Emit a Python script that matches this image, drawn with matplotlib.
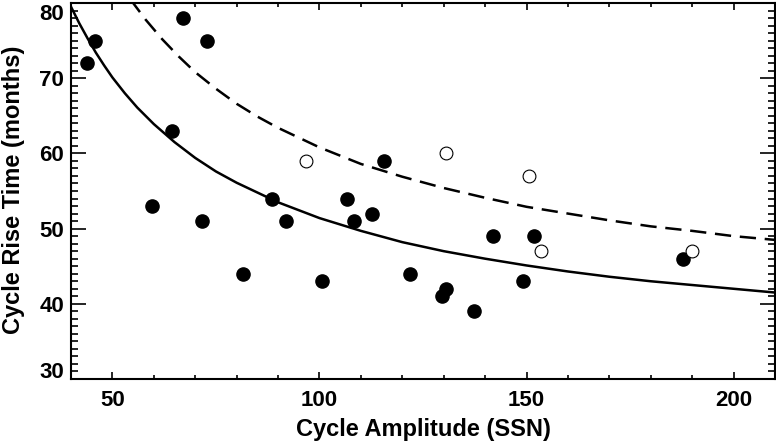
import matplotlib
matplotlib.use("Agg")
import matplotlib.pyplot as plt
from matplotlib.ticker import MultipleLocator
from matplotlib.transforms import ScaledTranslation

plt.rcParams['font.family'] = ['Liberation Sans', 'DejaVu Sans']
plt.rcParams['font.weight'] = 'bold'

# filled points: cycle amplitude (SSN) and rise time (months)
amp_filled = [43.8, 45.8, 67.1, 72.9, 64.5, 59.5, 71.6, 81.6, 88.6, 92.0, 100.5,
              106.6, 108.3, 112.8, 115.7, 121.8, 129.6, 130.6, 137.4, 141.9,
              149.1, 151.7, 187.9]
rise_filled = [72, 75, 78, 75, 63, 53, 51, 44, 54, 51, 43,
               54, 51, 52, 59, 44, 41, 42, 39, 49,
               43, 49, 46]

# open points
amp_open = [96.7, 130.6, 150.5, 153.4, 189.9]
rise_open = [59, 60, 57, 47, 47]

# solid curve
solid_x = [40, 42, 44, 46, 48, 50, 53, 56, 60, 65, 70, 75, 80, 90, 100, 110,
           120, 130, 140, 150, 160, 170, 180, 190, 200, 210]
solid_y = [79.5, 77.3, 75.3, 73.4, 71.7, 70.1, 68.0, 66.1, 63.9, 61.5, 59.4,
           57.6, 56.1, 53.5, 51.4, 49.7, 48.2, 47.0, 46.0, 45.1, 44.3, 43.6,
           43.0, 42.5, 42.0, 41.5]

# dashed curve
dash_x = [53, 55, 58, 62, 66, 70, 75, 80, 85, 90, 100, 110, 120, 130, 140,
          150, 160, 170, 180, 190, 200, 210]
dash_y = [81.6, 80.0, 77.8, 75.2, 72.9, 70.8, 68.6, 66.6, 64.9, 63.4, 60.8,
          58.6, 56.9, 55.4, 54.1, 52.9, 52.0, 51.1, 50.3, 49.7, 49.0, 48.5]

fig = plt.figure(figsize=(7.76, 4.42), dpi=100)
ax = fig.add_axes([0.0915, 0.1425, 0.9072, 0.8507])

ax.plot(solid_x, solid_y, color='black', linewidth=1.8)
ax.plot(dash_x, dash_y, color='black', linewidth=1.8, linestyle=(0, (6.5, 3.5)))
ax.scatter(amp_filled, rise_filled, s=90, color='black', zorder=3)
ax.scatter(amp_open, rise_open, s=85, facecolor='white', edgecolor='black',
           linewidth=0.8, zorder=3)

ax.set_xlim(40, 210)
ax.set_ylim(30, 80)
ax.xaxis.set_major_locator(MultipleLocator(50))
ax.xaxis.set_minor_locator(MultipleLocator(10))
ax.yaxis.set_major_locator(MultipleLocator(10))
ax.yaxis.set_minor_locator(MultipleLocator(1))

ax.tick_params(which='both', direction='in', top=True, right=True, width=1.2)
ax.tick_params(axis='x', which='major', length=5, pad=8, labelsize=16)
ax.tick_params(axis='x', which='minor', length=3)
ax.tick_params(axis='y', which='major', length=11, pad=5, labelsize=16)
ax.tick_params(axis='y', which='minor', length=5)
for s in ax.spines.values():
    s.set_linewidth(1.5)

# the end labels of the y axis sit inside the axis range, as in the original
fig.canvas.draw()
for tick in ax.yaxis.get_major_ticks():
    loc = tick.get_loc()
    if abs(loc - 80) < 1e-6:
        shift = -6.2 / 72
    elif abs(loc - 30) < 1e-6:
        shift = 6.2 / 72
    else:
        continue
    lab = tick.label1
    lab.set_transform(lab.get_transform() + ScaledTranslation(0, shift, fig.dpi_scale_trans))

ax.set_xlabel('Cycle Amplitude (SSN)', fontsize=17, fontweight='bold')
ax.set_ylabel('Cycle Rise Time (months)', fontsize=17, fontweight='bold')
ax.xaxis.set_label_coords(0.5, -0.104)
ax.yaxis.set_label_coords(-0.066, 0.503)

fig.savefig('out.png', dpi=100)
